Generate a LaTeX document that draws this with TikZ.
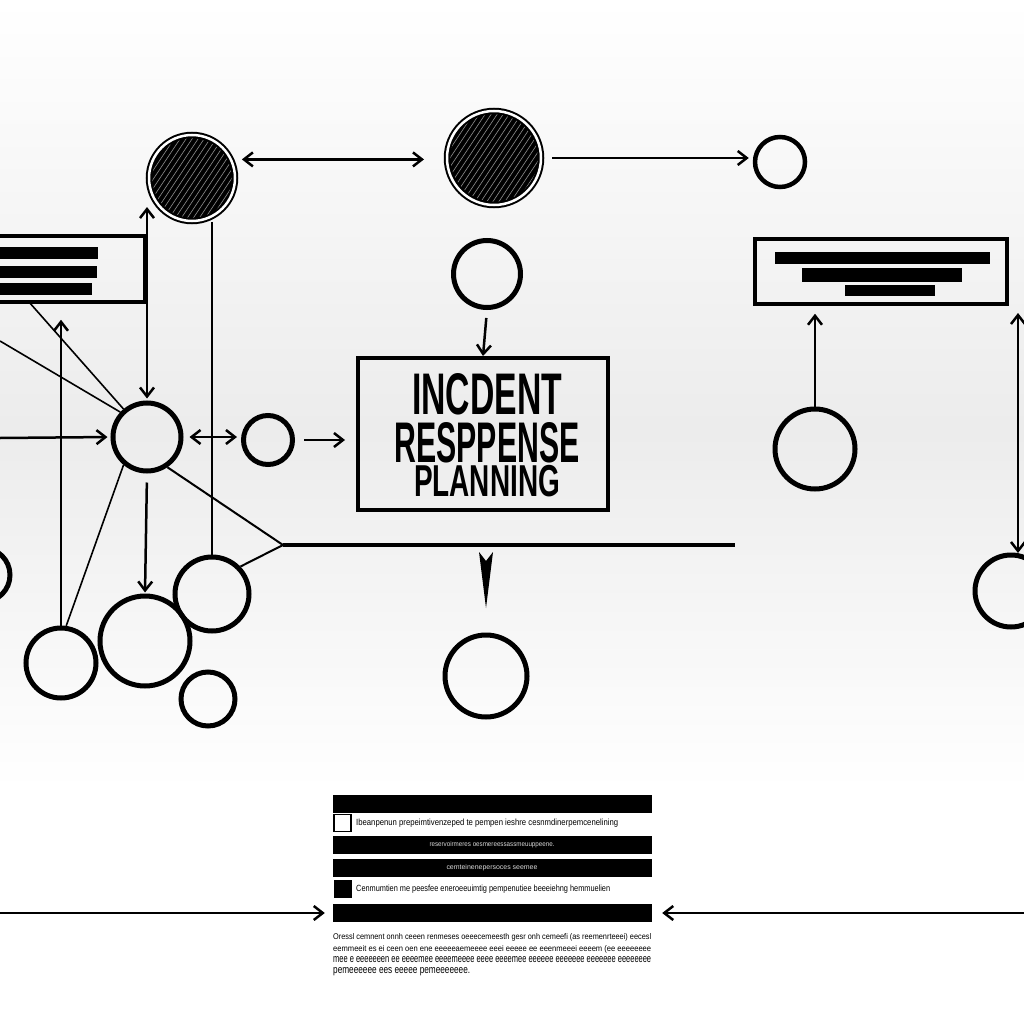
\documentclass[tikz,border=0pt]{standalone}
\usepackage{fontspec}
\usepackage{graphicx}
\setmainfont{Liberation Sans}
\usetikzlibrary{arrows.meta,calc}
\tikzset{
  >={Straight Barb[length=9pt,width=14pt]},
  ring/.style={circle, draw=black, line width=5pt, inner sep=0pt},
  dark/.style={circle, draw=black, line width=2pt, double=white, double distance=2.5pt,
    fill=black, inner sep=0pt,
    path picture={\foreach \k in {-110,-104,...,110}
      \draw[white, line width=0.6pt, opacity=0.55]
        ($(path picture bounding box.center)+(\k-40,60)$) -- ++(80,-120);}},
  conn/.style={line width=2.5pt, black},
  thinline/.style={line width=1.6pt, black},
  panel/.style={draw=black, line width=3.5pt, inner sep=0pt},
  bar/.style={fill=black, inner sep=0pt},
  tiny/.style={inner sep=0pt, anchor=west},
}
\begin{document}
\begin{tikzpicture}[x=1pt,y=-1pt]
\useasboundingbox (0,0) rectangle (1024,1024);
\clip (0,0) rectangle (1024,1024);
% background
\shade[top color=white, bottom color=gray!15] (0,0) rectangle (1024,430);
\shade[top color=gray!15, bottom color=white] (0,430) rectangle (1024,790);
\fill[white] (0,790) rectangle (1024,1024);

% circles
\node[dark, minimum size=86pt] (A) at (192,178) {};
\node[dark, minimum size=94pt] (B) at (494,158) {};
\node[ring, line width=4.5pt, minimum size=50pt] (C) at (780,162) {};
\node[ring, minimum size=67pt] (D) at (487,274) {};
\node[ring, minimum size=80pt] (E) at (815,449) {};
\node[ring, minimum size=72pt] (F) at (1011,591) {};
\node[ring, minimum size=54pt] (G) at (-17,575) {};
\node[ring, minimum size=68pt] (H) at (147,437) {};
\node[ring, minimum size=74pt] (I) at (212,594) {};
\node[ring, minimum size=49pt] (J) at (268,440) {};
\node[ring, minimum size=70pt] (K) at (61,663) {};
\node[ring, minimum size=90pt] (L) at (145,641) {};
\node[ring, minimum size=54pt] (M) at (208,699) {};
\node[ring, minimum size=82pt] (N) at (486,676) {};

% main box
\node[draw=black, line width=4pt, minimum width=250pt, minimum height=152pt, inner sep=0pt] (box) at (483,434) {};
\node[inner sep=0pt, anchor=north, align=center, font=\bfseries\fontsize{10pt}{48pt}\selectfont] (title) at (487,373)
  {\scalebox{0.575}[1]{\fontsize{58.7pt}{48pt}\selectfont INCDENT}\\
   \scalebox{0.528}[1]{\fontsize{57.3pt}{48pt}\selectfont RESPPENSE}\\[-14pt]
   \scalebox{0.625}[1]{\fontsize{44.7pt}{48pt}\selectfont PLANNING}};

% left panel
\node[panel, minimum width=170pt, minimum height=66pt] (lbox) at (60,269) {};
\fill[black] (-5,247) rectangle (98,259);
\fill[black] (-5,266) rectangle (97,278);
\fill[black] (-5,283) rectangle (92,295);

% right panel
\node[panel, minimum width=252pt, minimum height=65pt] (rbox) at (881,271.5) {};
\fill[black] (775,252) rectangle (990,264);
\fill[black] (802,268) rectangle (962,282);
\fill[black] (845,285) rectangle (935,296);

% bottom block
\node[bar, minimum width=319pt, minimum height=18pt] (bar1) at (492.5,804) {};
\node[draw=black, fill=white, line width=1.8pt, inner sep=0pt, minimum size=17pt] (chk1) at (342.5,823) {};
\node[tiny] (r1) at (356,823) {\resizebox{262pt}{6.5pt}{Ibeanpenun prepeimtivenzeped te pempen ieshre cesnmdinerpemcenelining}};
\node[bar, minimum width=319pt, minimum height=18pt] (bar2) at (492.5,845) {};
\node[inner sep=0pt, text=white!70!gray] (b2t) at (492,845) {\resizebox{125pt}{5pt}{reservoirmeres oesmereessassmeuuppeene.}};
\node[bar, minimum width=319pt, minimum height=18pt] (bar3) at (492.5,868) {};
\node[inner sep=0pt, text=white!70!gray] (b3t) at (492,868) {\resizebox{91pt}{5pt}{cemteinenepersoces seemee}};
\node[bar, minimum size=18pt] (chk2) at (342.5,889) {};
\node[tiny] (r2) at (356,889) {\resizebox{254pt}{6.5pt}{Cenmumtien me peesfee eneroeeuimtig pempenutiee beeeiehng hemmuelien}};
\node[bar, minimum width=319pt, minimum height=18pt] (bar4) at (492.5,913) {};
\node[tiny] (p1) at (333,937) {\resizebox{318pt}{6pt}{Oressl cemnent onnh ceeen renmeses oeeecemeesth gesr onh cemeefi (as reemenrteeei) eecesl}};
\node[tiny] (p2) at (333,949) {\resizebox{318pt}{6pt}{eemmeeit es ei ceen oen ene eeeeeaemeeee eeei eeeee ee eeenmeeei eeeem (ee eeeeeeee}};
\node[tiny] (p3) at (333,960) {\resizebox{318pt}{6pt}{mee e eeeeeeen ee eeeemee eeeemeeee eeee eeeemee eeeeee eeeeeee eeeeeee eeeeeeee}};
\node[tiny] (p4) at (333,972) {\resizebox{137pt}{6pt}{pemeeeeee ees eeeee pemeeeeeee.}};

% connectors
\draw[conn,<->, shorten <=10pt, shorten >=22pt] (A.25) -- (A.25 -| B.west);
\draw[conn,->, shorten <=10pt, shorten >=4pt] (B.east) -- (B.east -| C.west);
\draw[conn,->, shorten <=8pt] (D.south) -- (box.north);
\draw[conn,<->, shorten <=14pt, shorten >=2pt] (H.north |- A.200) -- (H.north);
\draw[thinline] (I.north |- A.south) -- (I.north);
\draw[conn,<->, shorten <=6pt, shorten >=4pt] (H.east) -- (H.east -| J.west);
\draw[conn,->, shorten <=9pt, shorten >=11pt] (J.east) -- (J.east -| box.west);
\coordinate (inL) at (0,438);
\draw[conn,->, shorten >=3pt] (inL) -- (H.west);
\draw[conn,->, shorten >=16pt] (K.north) -- (K.north |- lbox.south);
\draw[thinline] (K.82) -- (H.230);
\coordinate (q1) at (29,302);
\coordinate (q2) at (0,341);
\draw[thinline] (q1) -- (H.130);
\draw[thinline] (q2) -- (H.137);
\draw[conn,->, shorten <=9pt, shorten >=1pt] (H.south) -- (L.north);
\coordinate (jn) at (283,545);
\coordinate (jEnd) at (735,545);
\draw[line width=2pt] (H.-56) -- (jn) -- (I.44);
\draw[line width=4pt] (jn) -- (jEnd);
\fill[black] (479,552) -- (486,561) -- (493,552) -- (486,608) -- cycle;
\draw[conn,->, shorten >=8pt] (E.north) -- (E.north |- rbox.south);
\coordinate (rt) at (1018,313);
\coordinate (rb) at (1018,553);
\draw[conn,<->] (rt) -- (rb);
\coordinate (bl) at (0,913);
\coordinate (br) at (1024,913);
\draw[conn,->, shorten >=8pt] (bl) -- (bar4.west);
\draw[conn,->, shorten >=10pt] (br) -- (bar4.east);
\end{tikzpicture}
\end{document}
